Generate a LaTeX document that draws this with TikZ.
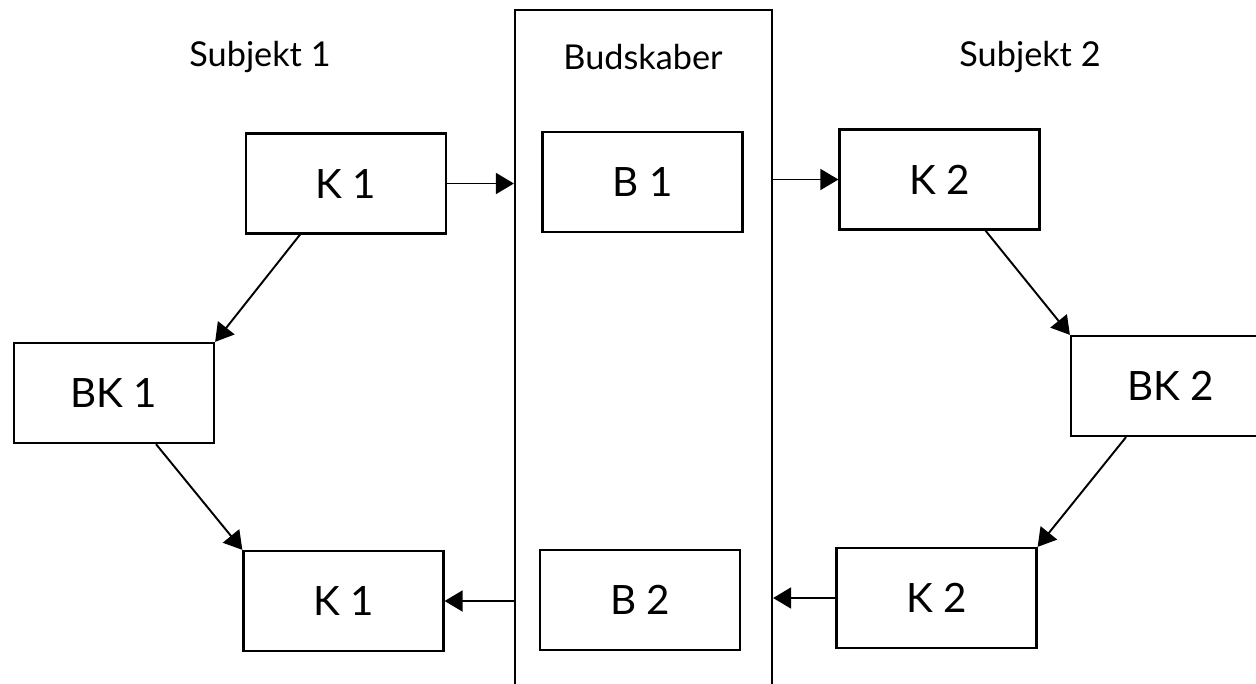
\documentclass[tikz,border=0pt]{standalone}
\usepackage{fontspec}
\setmainfont{Lato}
\usetikzlibrary{arrows.meta,calc}
\begin{document}
\begin{tikzpicture}[x=0.02cm,y=-0.02cm,
  box/.style={draw,line width=1.3pt,minimum width=4cm,minimum height=2cm,inner sep=0pt,font=\fontsize{23}{27}\selectfont},
  head/.style={font=\fontsize{19.5}{24}\selectfont,inner sep=0pt},
  link/.style={line width=1.1pt,-{Triangle[length=0.36cm,width=0.42cm]}}]
\useasboundingbox (0,0) rectangle (1256,683);
\fill[white] (0,0) rectangle (1256,683);

% column headings
\node[head] (s1) at (260,57) {Subjekt 1};
\node[head] (s2) at (1030,57) {Subjekt 2};

% message column, running off the lower edge
\node[draw,line width=1.3pt,minimum width=5.14cm,minimum height=13.6cm,inner sep=0pt] (bud) at (643.5,350) {};
\node[head] (budt) at (643,57) {Budskaber};

% boxes
\node[box] (K1a) at (346,183.5) {K 1};
\node[box] (B1)  at (642.5,182) {B 1};
\node[box] (K2a) at (939.5,179.5) {K 2};
\node[box] (BK1) at (114,393) {BK 1};
\node[box] (BK2) at (1171,386) {BK 2};
\node[box] (K1b) at (343.5,601) {K 1};
\node[box] (B2)  at (640,600) {B 2};
\node[box] (K2b) at (936.5,598) {K 2};

% connectors
\draw[link] (K1a.east) -- (bud.west |- K1a.east);
\draw[link] (bud.east |- K2a.west) -- (K2a.west);
\draw[link] ($(K1a.south)+(-46,0)$) -- (BK1.north east);
\draw[link] ($(BK1.south)+(42,0)$) -- (K1b.north west);
\draw[link] ($(K2a.south)+(46,0)$) -- (BK2.north west);
\draw[link] ($(BK2.south)+(-45,0)$) -- (K2b.north east);
\draw[link] (bud.west |- K1b.east) -- (K1b.east);
\draw[link] (K2b.west) -- (bud.east |- K2b.west);
\end{tikzpicture}
\end{document}
